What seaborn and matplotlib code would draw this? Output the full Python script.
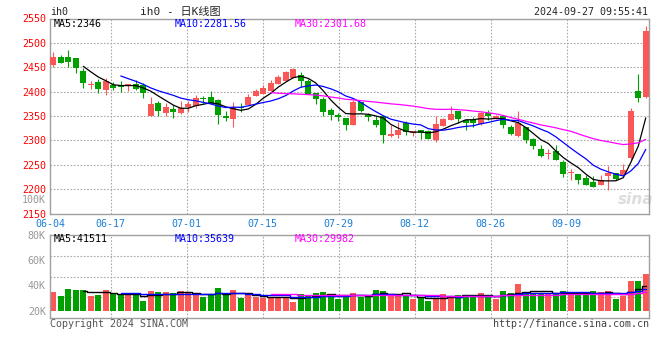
import numpy as np
import pandas as pd
import matplotlib
matplotlib.use('Agg')
import matplotlib.pyplot as plt
import seaborn as sns

# ========== 数据 ==========
date_labels = ['06-04', '06-17', '07-01', '07-15', '07-29', '08-12', '08-26', '09-09']
date_idx = [0, 8, 18, 28, 38, 48, 58, 68]

opens = [2453.7, 2470.8, 2470.8, 2468.0, 2442.0, 2413.0, 2419.8, 2403.4, 2413.0, 2411.6,
         2412.0, 2416.0, 2413.0, 2350.7, 2377.0, 2357.0, 2364.7, 2356.2, 2369.4, 2371.0,
         2386.0, 2390.0, 2382.0, 2349.0, 2343.8, 2369.0, 2373.0, 2391.0, 2395.0, 2402.0,
         2415.5, 2422.0, 2428.0, 2435.0, 2422.0, 2398.0, 2384.0, 2361.5, 2353.0, 2346.6,
         2330.6, 2379.6, 2352.4, 2341.0, 2349.0, 2308.0, 2311.6, 2335.4, 2315.0, 2321.8,
         2320.0, 2301.4, 2330.0, 2340.8, 2360.6, 2342.0, 2342.0, 2334.0, 2355.8, 2345.6,
         2350.0, 2328.4, 2310.0, 2328.4, 2302.5, 2282.7, 2271.8, 2278.6, 2256.0, 2232.6,
         2231.5, 2222.7, 2214.0, 2209.0, 2226.0, 2233.0, 2229.5, 2263.6, 2401.4, 2388.4]
highs = [2481.0, 2474.8, 2485.0, 2469.0, 2449.0, 2422.5, 2425.0, 2428.0, 2420.0, 2422.5,
         2416.0, 2424.0, 2418.5, 2388.4, 2380.0, 2376.0, 2373.0, 2380.0, 2381.0, 2393.0,
         2392.0, 2401.0, 2384.5, 2361.0, 2378.0, 2376.0, 2395.0, 2406.0, 2413.0, 2424.0,
         2434.5, 2442.6, 2448.7, 2440.0, 2425.0, 2398.0, 2388.5, 2366.0, 2356.0, 2346.6,
         2383.0, 2379.6, 2355.8, 2350.0, 2349.0, 2332.0, 2336.8, 2340.0, 2320.0, 2321.8,
         2321.0, 2350.0, 2345.6, 2370.8, 2360.6, 2342.0, 2347.6, 2359.0, 2362.6, 2352.4,
         2352.0, 2332.0, 2361.0, 2328.4, 2304.5, 2291.0, 2282.0, 2291.0, 2259.0, 2242.0,
         2231.5, 2229.5, 2226.0, 2229.5, 2246.5, 2233.0, 2252.0, 2366.0, 2436.0, 2534.0]
lows = [2450.0, 2458.0, 2451.0, 2437.4, 2408.0, 2405.5, 2398.0, 2393.0, 2403.0, 2400.0,
        2402.0, 2403.0, 2386.0, 2350.7, 2349.7, 2350.4, 2346.0, 2354.8, 2357.7, 2366.0,
        2376.0, 2375.0, 2334.0, 2339.0, 2327.0, 2359.0, 2373.0, 2391.0, 2395.0, 2402.0,
        2415.5, 2422.0, 2428.0, 2410.0, 2396.0, 2375.0, 2351.0, 2341.0, 2340.5, 2322.0,
        2330.6, 2359.0, 2338.8, 2327.0, 2294.6, 2306.8, 2304.8, 2311.6, 2309.6, 2302.8,
        2302.0, 2296.0, 2330.0, 2340.8, 2335.4, 2320.4, 2327.0, 2332.0, 2342.2, 2343.6,
        2325.0, 2311.0, 2306.6, 2295.6, 2282.7, 2265.0, 2262.0, 2260.0, 2224.0, 2219.0,
        2211.0, 2207.7, 2204.3, 2209.0, 2197.5, 2219.0, 2226.0, 2260.0, 2379.5, 2386.4]
closes = [2472.0, 2459.2, 2460.6, 2449.0, 2418.4, 2416.0, 2406.0, 2422.5, 2408.0, 2409.6,
          2416.0, 2406.0, 2398.0, 2374.9, 2360.6, 2369.4, 2359.0, 2365.4, 2374.9, 2387.0,
          2384.0, 2375.0, 2353.0, 2345.0, 2368.0, 2367.0, 2389.0, 2401.0, 2408.0, 2418.0,
          2430.4, 2440.0, 2447.0, 2422.0, 2396.0, 2384.0, 2359.0, 2353.0, 2347.0, 2332.0,
          2379.6, 2361.0, 2347.6, 2330.6, 2311.6, 2313.6, 2321.8, 2316.4, 2319.8, 2315.0,
          2303.0, 2334.0, 2343.6, 2354.4, 2343.6, 2335.4, 2334.7, 2355.8, 2349.0, 2350.4,
          2332.0, 2313.4, 2336.6, 2300.0, 2289.0, 2268.4, 2274.5, 2260.0, 2232.0, 2234.7,
          2219.3, 2208.4, 2204.3, 2219.3, 2233.0, 2220.6, 2239.7, 2360.4, 2386.4, 2524.0]
# 成交量（K，按左侧刻度读取）
volumes = [35.0, 31.6, 37.1, 36.3, 36.3, 31.6, 32.4, 36.3, 33.2, 32.4,
           32.4, 32.4, 27.8, 35.5, 34.7, 34.7, 34.0, 35.5, 34.0, 33.3,
           30.8, 32.2, 37.9, 32.4, 36.3, 30.0, 32.4, 31.0, 30.3, 30.3,
           30.3, 30.3, 27.0, 33.2, 32.6, 34.0, 34.7, 33.2, 29.3, 32.4,
           34.2, 31.1, 31.1, 36.4, 35.6, 32.0, 32.0, 32.0, 29.4, 30.4,
           28.0, 30.4, 33.3, 31.7, 32.5, 32.5, 32.5, 34.1, 31.5, 29.4,
           35.6, 34.1, 40.7, 34.1, 34.1, 34.2, 33.5, 34.2, 35.6, 32.9,
           34.1, 32.9, 35.6, 34.8, 35.6, 29.4, 32.0, 43.6, 43.6, 49.1]

# ========== 样式 ==========
sns.set_theme(style='white')
plt.rcParams['font.family'] = ['DejaVu Sans Mono', 'Noto Sans CJK SC']
plt.rcParams['axes.unicode_minus'] = False

RED = '#fa5757'
GREEN = '#00a000'
GRID = '#aaaaaa'
DOT = (0, (1.5, 1.5))
W, H = 660, 360
FS = 7.2

df = pd.DataFrame({'open': opens, 'high': highs, 'low': lows, 'close': closes, 'vol': volumes})
df['x'] = np.arange(len(df))
df['color'] = np.where(df['close'] >= df['open'], RED, GREEN)
for n in (5, 10, 30):
    df[f'ma{n}'] = df['close'].rolling(n).mean()
    df[f'vma{n}'] = df['vol'].rolling(n).mean()
ma_styles = [(5, 'black'), (10, '#0000ff'), (30, '#ff00ff')]


def px_rect(l, t, r, b):
    return [l / W, 1 - b / H, (r - l) / W, (b - t) / H]


fig = plt.figure(figsize=(6.6, 3.6), dpi=100)
ax1 = fig.add_axes(px_rect(50, 18.5, 649.3, 213.5))
ax2 = fig.add_axes(px_rect(50, 234.7, 649.3, 318.3))

# ========== K线 ==========
body = (df['close'] - df['open']).abs().clip(lower=2)
bottom = df[['open', 'close']].min(axis=1)
ax1.vlines(df['x'], df['low'], df['high'], colors=df['color'], lw=0.8, zorder=2)
ax1.bar(df['x'], body, bottom=bottom, width=0.8, color=df['color'], linewidth=0, zorder=3)
for n, c in ma_styles:
    d = df[['x', f'ma{n}']].dropna()
    sns.lineplot(data=d, x='x', y=f'ma{n}', ax=ax1, color=c, lw=0.9, zorder=4, errorbar=None)

# ========== 成交量 ==========
ax2.bar(df['x'], df['vol'] - 20, bottom=20, width=0.8, color=df['color'], linewidth=0, zorder=2)
for n, c in ma_styles:
    d = df[['x', f'vma{n}']].dropna()
    sns.lineplot(data=d, x='x', y=f'vma{n}', ax=ax2, color=c, lw=1.0, zorder=4,
                 errorbar=None, drawstyle='steps-mid')

# 新浪的日期网格间距略大于K线间距
tick_pos = [i * 7.6 / 7.5 - 0.44 for i in date_idx]
for ax in (ax1, ax2):
    ax.set_xlim(-0.44, 79.47)
    ax.set_xlabel('')
    ax.set_ylabel('')
    ax.grid(False)
    ax.set_xticks(tick_pos)
    for p in tick_pos[1:]:
        ax.axvline(p, color=GRID, lw=0.8, ls=DOT, zorder=1)
    for s in ax.spines.values():
        s.set_color('#a0a0a0')
        s.set_linewidth(1.0)
    ax.tick_params(length=0)

ax1.set_ylim(2150, 2550)
ax1.set_yticks(range(2150, 2551, 50))
ax1.tick_params(axis='y', labelcolor='#ff0000', labelsize=FS, pad=3)
for v in range(2200, 2501, 50):
    ax1.axhline(v, color=GRID, lw=0.8, ls=DOT, zorder=1)
ax1.set_xticklabels(date_labels, color='#1a7fd6', fontsize=FS)
ax1.tick_params(axis='x', pad=4)

ax2.set_ylim(14, 80)
ax2.set_yticks([20, 40, 60, 80])
ax2.set_yticklabels(['20K', '40K', '60K', '80K'])
ax2.tick_params(axis='y', labelcolor='#999999', labelsize=FS, pad=3)
ax2.set_xticklabels([])
for f in (0.25, 0.5, 0.75):
    ax2.axhline(14 + f * 66, color=GRID, lw=0.8, ls=DOT, zorder=1)

# ========== 文字 ==========
def ftext(x, y, s, **kw):
    kw.setdefault('fontsize', FS)
    kw.setdefault('va', 'center')
    fig.text(x / W, 1 - y / H, s, **kw)

ftext(50, 12, 'ih0')
ftext(140, 12, 'ih0 - 日K线图', fontsize=8)
ftext(648, 12, '2024-09-27 09:55:41', ha='right')
ftext(54, 24, 'MA5:2346', color='black')
ftext(175, 24, 'MA10:2281.56', color='#0000ff')
ftext(295, 24, 'MA30:2301.68', color='#ff00ff')
ftext(46, 200, '100K', ha='right', color='#999999')
ftext(54, 239, 'MA5:41511', color='black')
ftext(175, 239, 'MA10:35639', color='#0000ff')
ftext(295, 239, 'MA30:29982', color='#ff00ff')
ftext(50, 324, 'Copyright 2024 SINA.COM', color='#555555')
ftext(649, 324, 'http://finance.sina.com.cn', ha='right', color='#444444')
ax1.text(636 / W, 1 - 200 / H, 'sina', transform=fig.transFigure, ha='center', va='center',
         fontsize=11, fontweight='bold', fontstyle='italic', color='#dddddd', zorder=0.5,
         family='DejaVu Sans')

fig.savefig('out.png', dpi=100)
